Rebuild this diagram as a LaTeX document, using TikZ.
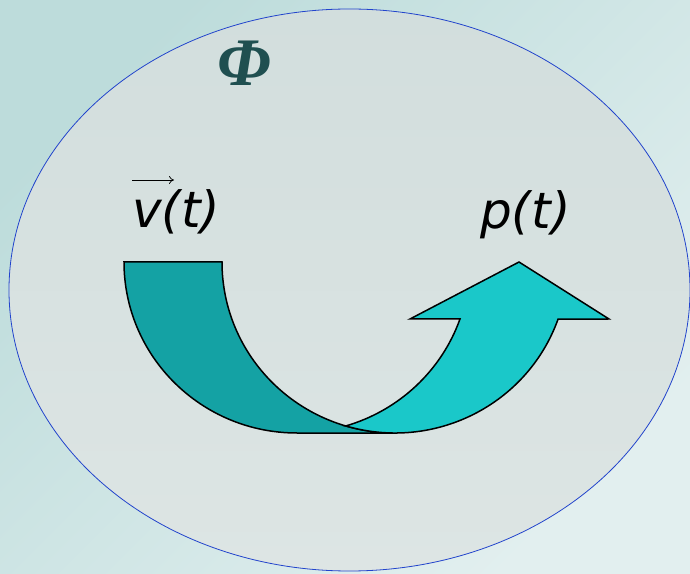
\documentclass[tikz,border=0pt]{standalone}
\usepackage{fontspec}
\newfontfamily\djsans{DejaVu Sans}
\newfontfamily\lserif{Liberation Serif}
\usetikzlibrary{arrows.meta,calc}
\definecolor{bgA}{HTML}{BDDCDB}
\definecolor{bgB}{HTML}{E2EFEF}
\definecolor{ellA}{HTML}{D2DEDD}
\definecolor{ellB}{HTML}{DDE5E4}
\definecolor{ellLine}{HTML}{2244CC}
\definecolor{darkteal}{HTML}{14A2A4}
\definecolor{lightteal}{HTML}{1AC8C9}
\definecolor{phicol}{HTML}{1F4F50}
\tikzset{
  band/.style={draw=black, line width=1.5pt, line join=miter},
  labeltext/.style={font=\djsans\itshape\fontsize{50}{60}\selectfont, inner sep=0pt, text=black},
}
\begin{document}
\begin{tikzpicture}[x=1pt,y=1pt]
\useasboundingbox (0,0) rectangle (690,573);
\shade[top color=bgA, bottom color=bgB, shading angle=45] (0,0) rectangle (690,573);
\shade[top color=ellA, bottom color=ellB] (349.5,283) ellipse [x radius=340.5, y radius=281];
\draw[ellLine, line width=0.8pt] (349.5,283) ellipse [x radius=340.5, y radius=281];
% back band
\draw[band, fill=darkteal] (124,311) -- (222,311)
  arc[start angle=180, end angle=270, x radius=173, y radius=171]
  -- (297,140)
  arc[start angle=270, end angle=180, x radius=173, y radius=171] -- cycle;
% front band with arrow head
\draw[band, fill=lightteal] ($(395,311)+(253.6:173 and 171)$)
  arc[start angle=253.6, end angle=340.5, x radius=173, y radius=171]
  -- (609,254) -- (519,311) -- (410,254) -- (460,254)
  arc[start angle=340.5, end angle=286.4, x radius=173, y radius=171] -- cycle;
% labels
\node[font=\lserif\bfseries\itshape\fontsize{68}{80}\selectfont, text=phicol, inner sep=0pt] (phi) at (244,510) {Φ};
\node[labeltext, anchor=base west] (v) at (132,345) {v(t)};
\node[labeltext, anchor=base west] (p) at (480,344) {p(t)};
\coordinate (va) at (132,393);
\coordinate (vb) at (174,393);
\draw[line width=0.7pt, -{To[length=5pt,width=8pt]}] (va) -- (vb);
\end{tikzpicture}
\end{document}
